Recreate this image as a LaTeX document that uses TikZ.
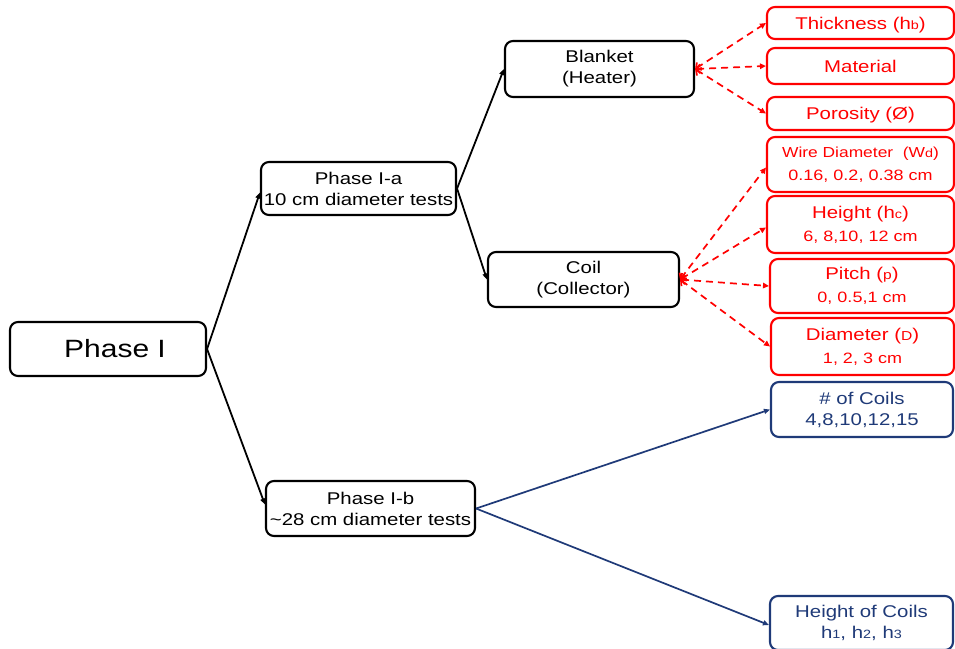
\documentclass[tikz,border=0pt]{standalone}
\usepackage{fontspec}
\setmainfont{Liberation Sans}[FakeStretch=1.2]
\usetikzlibrary{arrows.meta,calc}
\definecolor{navy}{HTML}{1F3A78}
\definecolor{rd}{HTML}{FF0000}
\newcommand{\sm}[1]{{\fontsize{12}{12}\selectfont #1}}
\newcommand{\smm}[1]{{\fontsize{13}{13}\selectfont #1}}
\newcommand{\fs}{\fontsize{15}{21}\selectfont}
\newcommand{\fw}{\fontsize{14.5}{21}\selectfont}
\begin{document}
\begin{tikzpicture}[x=1pt,y=-1pt,
  basebox/.style={line width=2.1pt, rounded corners=8pt, align=center, inner sep=0pt},
  kbox/.style={basebox, draw=black, font=\fontsize{17}{21}\selectfont},
  rbox/.style={basebox, draw=rd, text=rd, font=\fontsize{17}{23}\selectfont},
  nbox/.style={basebox, draw=navy, text=navy, font=\fontsize{17}{21}\selectfont},
  blk/.style={line width=1.8pt, -{Triangle[length=6pt,width=5pt]}},
  rdash/.style={rd, line width=1.7pt, dash pattern=on 7pt off 5pt,
     {Straight Barb[length=4pt,width=9pt]}-{Triangle[length=6pt,width=5.5pt]}},
  nav/.style={navy, line width=1.7pt, -{Triangle[length=6pt,width=5pt]}}]
\fill[white] (0,0) rectangle (955,648);
\useasboundingbox (0,0) rectangle (955,648);

% black boxes
\node[kbox, minimum width=196pt, minimum height=54pt, font=\fontsize{25}{25}\selectfont] (p1) at (108,349) {\hspace*{14pt}Phase I};
\node[kbox, minimum width=195pt, minimum height=53pt] (pa) at (358.5,188.5) {Phase I-a\\10 cm diameter tests};
\node[kbox, minimum width=189pt, minimum height=56pt] (bl) at (599.5,69) {Blanket\\(Heater)};
\node[kbox, minimum width=191pt, minimum height=55pt] (co) at (583.5,279.5) {Coil\\(Collector)};
\node[kbox, minimum width=209pt, minimum height=55pt] (pb) at (370.5,508.5) {Phase I-b\\\textasciitilde28 cm diameter tests};

% red boxes
\node[rbox, text depth=0pt, minimum width=187pt, minimum height=32pt] (th) at (860.5,23) {Thickness (h\sm{b})};
\node[rbox, text depth=0pt, minimum width=187pt, minimum height=36pt] (ma) at (860.5,66) {Material};
\node[rbox, text depth=0pt, minimum width=187pt, minimum height=33pt] (po) at (860.5,113.5) {Porosity (Ø)};
\node[rbox, minimum width=187pt, minimum height=55pt] (wd) at (860.5,164.5) {{\fw Wire Diameter\ \ (W\sm{d})}\\{\fs 0.16, 0.2, 0.38 cm}};
\node[rbox, minimum width=187pt, minimum height=57pt] (hc) at (860.5,224.5) {Height (h\sm{c})\\{\fs 6, 8,10, 12 cm}};
\node[rbox, minimum width=184pt, minimum height=54pt] (pi) at (862,286) {Pitch (\smm{p})\\{\fs 0, 0.5,1 cm}};
\node[rbox, minimum width=183pt, minimum height=57pt] (di) at (862.5,346.5) {Diameter (\smm{D})\\{\fs 1, 2, 3 cm}};

% navy boxes
\node[nbox, minimum width=182pt, minimum height=55pt] (nc) at (862,409.5) {\# of Coils\\4,8,10,12,15};
\node[nbox, minimum width=183pt, minimum height=54pt] (hh) at (861.5,623) {Height of Coils\\h\sm{1}, h\sm{2}, h\sm{3}};

% black connectors
\draw[blk] (p1.east) -- ([yshift=-4pt]pa.west);
\draw[blk] (p1.east) -- ([yshift=4pt]pb.west);
\draw[blk] (pa.east) -- (bl.west);
\draw[blk] (pa.east) -- (co.west);

% red dashed connectors
\draw[rdash] (bl.east) -- (th.west);
\draw[rdash] (bl.east) -- (ma.west);
\draw[rdash] (bl.east) -- (po.west);
\draw[rdash] (co.east) -- ([yshift=-3pt]wd.west);
\draw[rdash] (co.east) -- ([yshift=-3pt]hc.west);
\draw[rdash] (co.east) -- (pi.west);
\draw[rdash] (co.east) -- (di.west);

% navy connectors
\draw[nav] (pb.east) -- (nc.west);
\draw[nav] (pb.east) -- ([yshift=-2pt]hh.west);
\end{tikzpicture}
\end{document}
